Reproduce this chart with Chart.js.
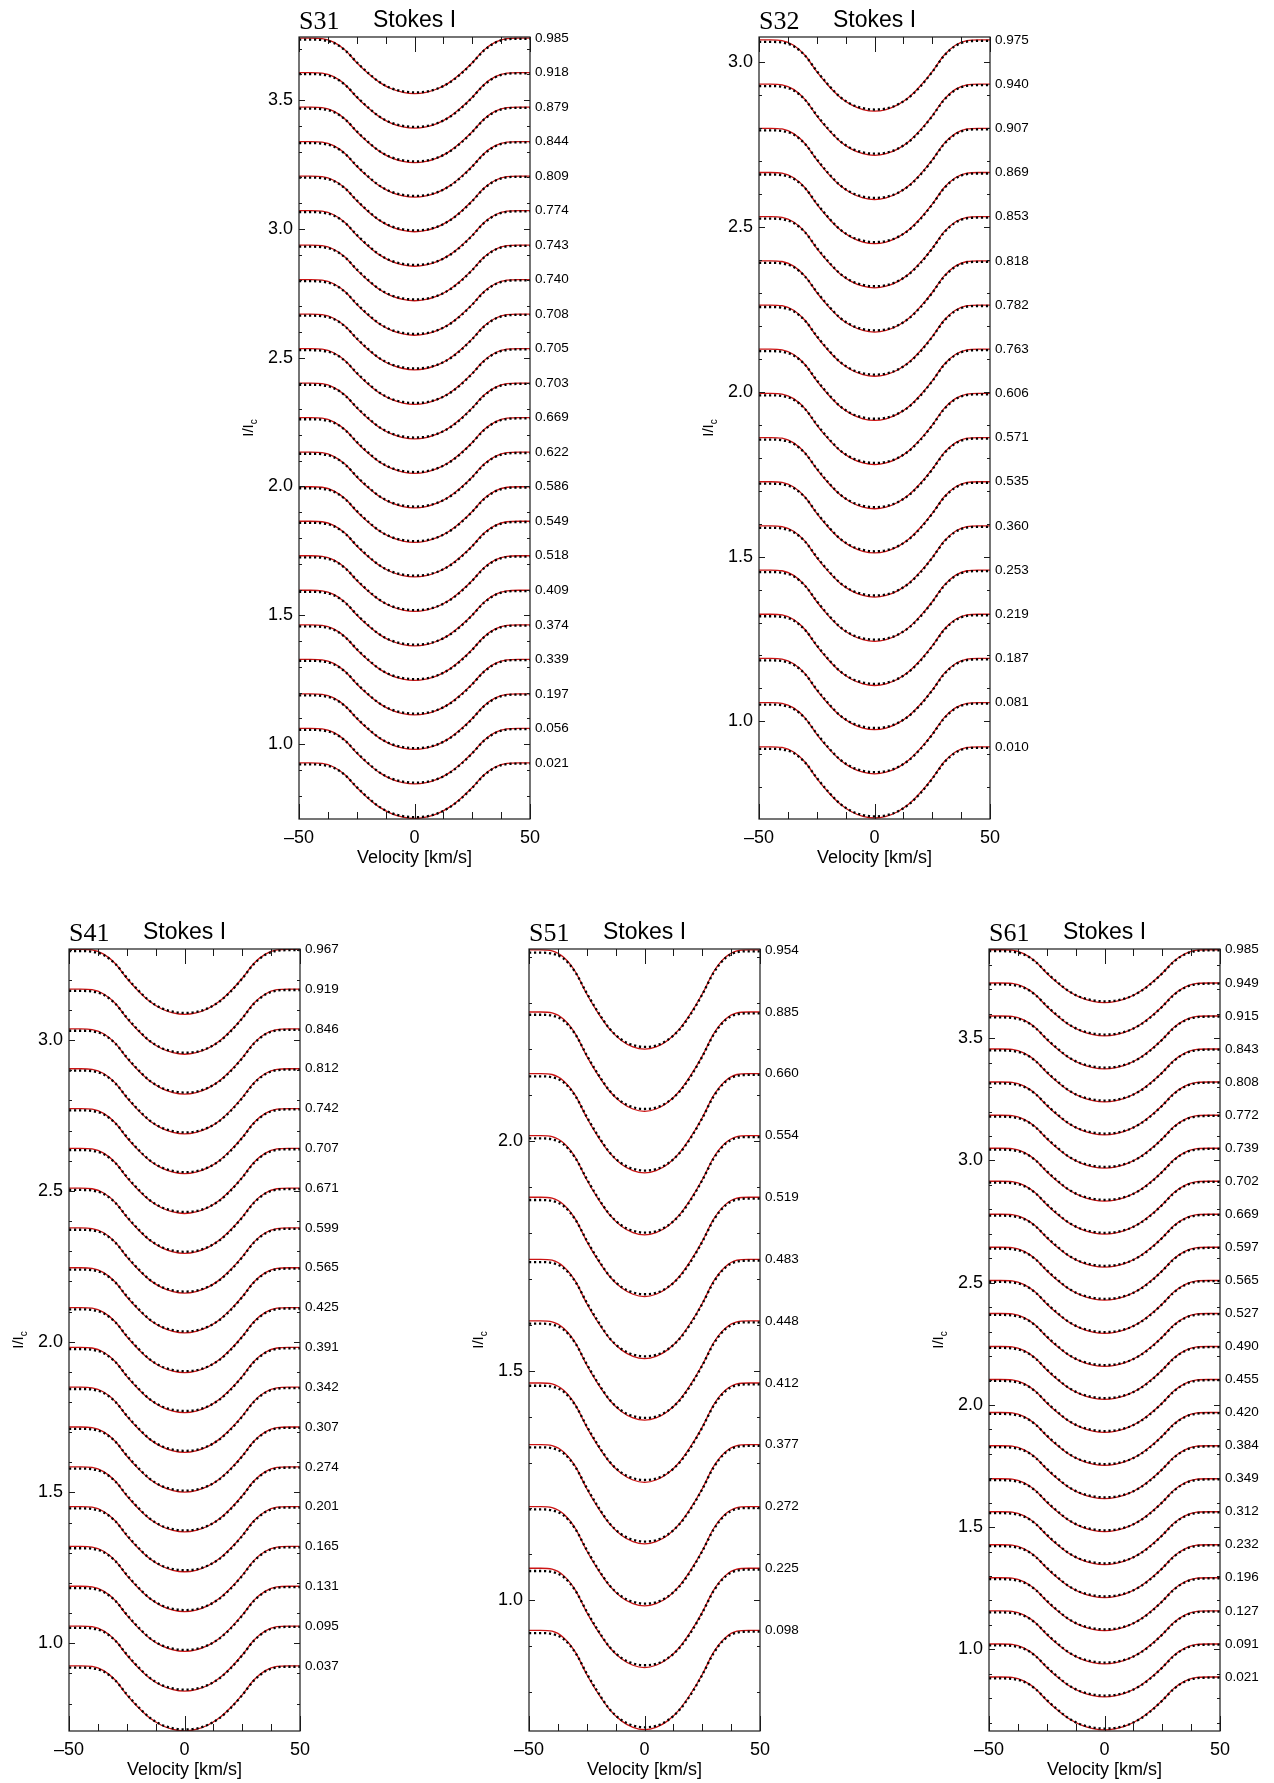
<!DOCTYPE html>
<html>
<head>
<meta charset="utf-8">
<script src="https://cdn.jsdelivr.net/npm/chart.js@4.4.1/dist/chart.umd.min.js"></script>
<style>
  html, body { margin: 0; padding: 0; background: #fff; }
  body { width: 1274px; height: 1783px; position: relative; overflow: hidden; }
  canvas { position: absolute; }
</style>
</head>
<body>
<canvas id="c31"></canvas>
<canvas id="c32"></canvas>
<canvas id="c41"></canvas>
<canvas id="c51"></canvas>
<canvas id="c61"></canvas>
<script>
// line profile, depth below the continuum of each stacked spectrum
const velocity = [-50, -45, -40, -35, -30, -25, -20, -15, -10, -5, 0, 5, 10, 15, 20, 25, 30, 35, 40, 45, 50];
const modelDepth = [0, 0, 0.002, 0.016, 0.047, 0.096, 0.138, 0.173, 0.197, 0.211, 0.216, 0.211, 0.197, 0.173, 0.138, 0.096, 0.047, 0.016, 0.002, 0, 0];
const obsDepth = [0.006, 0.006, 0.008, 0.019, 0.048, 0.094, 0.136, 0.172, 0.195, 0.207, 0.211, 0.208, 0.196, 0.174, 0.140, 0.097, 0.049, 0.018, 0.005, 0.003, 0.003];

const xTickVals = [-50, -37.5, -25, -12.5, 0, 12.5, 25, 37.5, 50];
const xTickLabels = { "-50": "\u201350", "0": "0", "50": "50" };

// rotational phases, bottom to top, and continuum level of each spectrum
const s31Phases = ["0.021", "0.056", "0.197", "0.339", "0.374", "0.409", "0.518", "0.549", "0.586", "0.622", "0.669", "0.703", "0.705", "0.708", "0.740", "0.743", "0.774", "0.809", "0.844", "0.879", "0.918", "0.985"];
const s31Levels = [0.927, 1.061, 1.195, 1.329, 1.463, 1.597, 1.731, 1.865, 1.999, 2.133, 2.267, 2.401, 2.535, 2.669, 2.803, 2.937, 3.071, 3.205, 3.339, 3.473, 3.607, 3.741];

const s32Phases = ["0.010", "0.081", "0.187", "0.219", "0.253", "0.360", "0.535", "0.571", "0.606", "0.763", "0.782", "0.818", "0.853", "0.869", "0.907", "0.940", "0.975"];
const s32Levels = [0.923, 1.057, 1.191, 1.325, 1.459, 1.593, 1.727, 1.861, 1.995, 2.129, 2.263, 2.397, 2.531, 2.665, 2.799, 2.933, 3.067];

const s41Phases = ["0.037", "0.095", "0.131", "0.165", "0.201", "0.274", "0.307", "0.342", "0.391", "0.425", "0.565", "0.599", "0.671", "0.707", "0.742", "0.812", "0.846", "0.919", "0.967"];
const s41Levels = [0.925, 1.057, 1.189, 1.321, 1.453, 1.585, 1.717, 1.849, 1.981, 2.113, 2.245, 2.377, 2.509, 2.641, 2.773, 2.905, 3.037, 3.169, 3.301];

const s51Phases = ["0.098", "0.225", "0.272", "0.377", "0.412", "0.448", "0.483", "0.519", "0.554", "0.660", "0.885", "0.954"];
const s51Levels = [0.935, 1.070, 1.204, 1.339, 1.473, 1.608, 1.742, 1.877, 2.011, 2.146, 2.280, 2.415];

const s61Phases = ["0.021", "0.091", "0.127", "0.196", "0.232", "0.312", "0.349", "0.384", "0.420", "0.455", "0.490", "0.527", "0.565", "0.597", "0.669", "0.702", "0.739", "0.772", "0.808", "0.843", "0.915", "0.949", "0.985"];
const s61Levels = [0.887, 1.022, 1.157, 1.293, 1.428, 1.563, 1.698, 1.833, 1.969, 2.104, 2.239, 2.374, 2.509, 2.645, 2.780, 2.915, 3.050, 3.185, 3.321, 3.456, 3.591, 3.726, 3.862];

const panels = [
    { id: "c31", name: "S31", left: 299, top: 37, yMin: 0.709, yMax: 3.745, yLabels: [1.0, 1.5, 2.0, 2.5, 3.0, 3.5], phases: s31Phases, levels: s31Levels },
    { id: "c32", name: "S32", left: 759, top: 37, yMin: 0.704, yMax: 3.076, yLabels: [1.0, 1.5, 2.0, 2.5, 3.0], phases: s32Phases, levels: s32Levels },
    { id: "c41", name: "S41", left: 69, top: 949, yMin: 0.709, yMax: 3.302, yLabels: [1.0, 1.5, 2.0, 2.5, 3.0], phases: s41Phases, levels: s41Levels },
    { id: "c51", name: "S51", left: 529, top: 949, yMin: 0.716, yMax: 2.417, yLabels: [1.0, 1.5, 2.0], phases: s51Phases, levels: s51Levels },
    { id: "c61", name: "S61", left: 989, top: 949, yMin: 0.666, yMax: 3.865, yLabels: [1.0, 1.5, 2.0, 2.5, 3.0, 3.5], phases: s61Phases, levels: s61Levels },
];

const PLOT_W = 231, PLOT_H = 782;
const PAD_L = 70, PAD_R = 70, PAD_T = 40, PAD_B = 52;
const SANS = "'Liberation Sans', Arial, sans-serif";

// box, inward ticks and the titles IDL-style
const framePlugin = {
    id: "frame",
    afterDraw(chart, args, opts) {
        const { ctx, chartArea: a, scales } = chart;
        ctx.save();
        ctx.strokeStyle = "#1a1a1a";
        ctx.lineWidth = 1.2;
        ctx.strokeRect(a.left, a.top, a.width, a.height);
        ctx.beginPath();
        xTickVals.forEach((v) => {
            const px = Math.round(scales.x.getPixelForValue(v)) + 0.5;
            const len = v % 50 === 0 ? 15 : 7;
            ctx.moveTo(px, a.bottom); ctx.lineTo(px, a.bottom - len);
            ctx.moveTo(px, a.top); ctx.lineTo(px, a.top + len);
        });
        for (let k = Math.ceil(opts.yMin * 10); k <= Math.floor(opts.yMax * 10); k++) {
            const py = Math.round(scales.y.getPixelForValue(k / 10)) + 0.5;
            const len = k % 5 === 0 ? 6 : 3;
            ctx.moveTo(a.left, py); ctx.lineTo(a.left + len, py);
            ctx.moveTo(a.right, py); ctx.lineTo(a.right - len, py);
        }
        ctx.lineWidth = 1;
        ctx.stroke();

        ctx.fillStyle = "#000";
        ctx.textBaseline = "alphabetic";
        ctx.textAlign = "left";
        ctx.font = "26px 'Liberation Serif', 'Times New Roman', serif";
        ctx.fillText(opts.name, a.left, a.top - 8);
        ctx.font = "23px " + SANS;
        ctx.fillText("Stokes I", a.left + 74, a.top - 10);

        ctx.font = "18px " + SANS;
        ctx.textAlign = "center";
        ctx.fillText("Velocity [km/s]", (a.left + a.right) / 2, a.bottom + 44);

        ctx.translate(a.left - 46, (a.top + a.bottom) / 2);
        ctx.rotate(-Math.PI / 2);
        ctx.textAlign = "left";
        ctx.font = "15px " + SANS;
        const w = ctx.measureText("I/I").width;
        ctx.font = "10px " + SANS;
        const wc = ctx.measureText("c").width;
        const x0 = -(w + wc) / 2;
        ctx.font = "15px " + SANS;
        ctx.fillText("I/I", x0, 0);
        ctx.font = "10px " + SANS;
        ctx.fillText("c", x0 + w, 4);
        ctx.restore();
    },
};

panels.forEach((p) => {
    const canvas = document.getElementById(p.id);
    canvas.width = PAD_L + PLOT_W + PAD_R;
    canvas.height = PAD_T + PLOT_H + PAD_B;
    canvas.style.left = (p.left - PAD_L) + "px";
    canvas.style.top = (p.top - PAD_T) + "px";

    const datasets = [];
    p.levels.forEach((lev) => {
        datasets.push({
            data: velocity.map((v, k) => ({ x: v, y: lev - obsDepth[k] })),
            borderColor: "#000",
            borderWidth: 2.3,
            borderDash: [2.2, 2.8],
            order: 0,
        });
        datasets.push({
            data: velocity.map((v, k) => ({ x: v, y: lev - modelDepth[k] })),
            borderColor: "#cc1414",
            borderWidth: 1.3,
            order: 1,
        });
    });

    new Chart(canvas, {
        type: "line",
        data: { datasets },
        options: {
            responsive: false,
            animation: false,
            events: [],
            layout: { padding: { top: PAD_T, left: 0, right: 0, bottom: 0 } },
            elements: {
                point: { radius: 0 },
                line: { cubicInterpolationMode: "monotone", fill: false },
            },
            plugins: {
                legend: { display: false },
                tooltip: { enabled: false },
                frame: { name: p.name, yMin: p.yMin, yMax: p.yMax },
            },
            scales: {
                x: {
                    type: "linear",
                    min: -50,
                    max: 50,
                    grid: { display: false, drawTicks: false },
                    border: { display: false },
                    afterBuildTicks: (s) => { s.ticks = xTickVals.map((v) => ({ value: v })); },
                    afterFit: (s) => { s.height = PAD_B; },
                    ticks: {
                        autoSkip: false,
                        maxRotation: 0,
                        padding: 8,
                        color: "#000",
                        font: { family: SANS, size: 18 },
                        callback: (v) => xTickLabels[String(v)] || "",
                    },
                },
                y: {
                    type: "linear",
                    position: "left",
                    min: p.yMin,
                    max: p.yMax,
                    grid: { display: false, drawTicks: false },
                    border: { display: false },
                    afterBuildTicks: (s) => { s.ticks = p.yLabels.map((v) => ({ value: v })); },
                    afterFit: (s) => { s.width = PAD_L; },
                    ticks: {
                        autoSkip: false,
                        padding: 6,
                        color: "#000",
                        font: { family: SANS, size: 18 },
                        callback: (v) => v.toFixed(1),
                    },
                },
                y2: {
                    type: "linear",
                    position: "right",
                    min: p.yMin,
                    max: p.yMax,
                    grid: { display: false, drawTicks: false },
                    border: { display: false },
                    afterBuildTicks: (s) => { s.ticks = p.levels.map((v) => ({ value: v })); },
                    afterFit: (s) => { s.width = PAD_R; },
                    ticks: {
                        autoSkip: false,
                        padding: 5,
                        color: "#000",
                        font: { family: SANS, size: 13.5 },
                        callback: (v, i) => p.phases[i],
                    },
                },
            },
        },
        plugins: [framePlugin],
    });
});
</script>
</body>
</html>
